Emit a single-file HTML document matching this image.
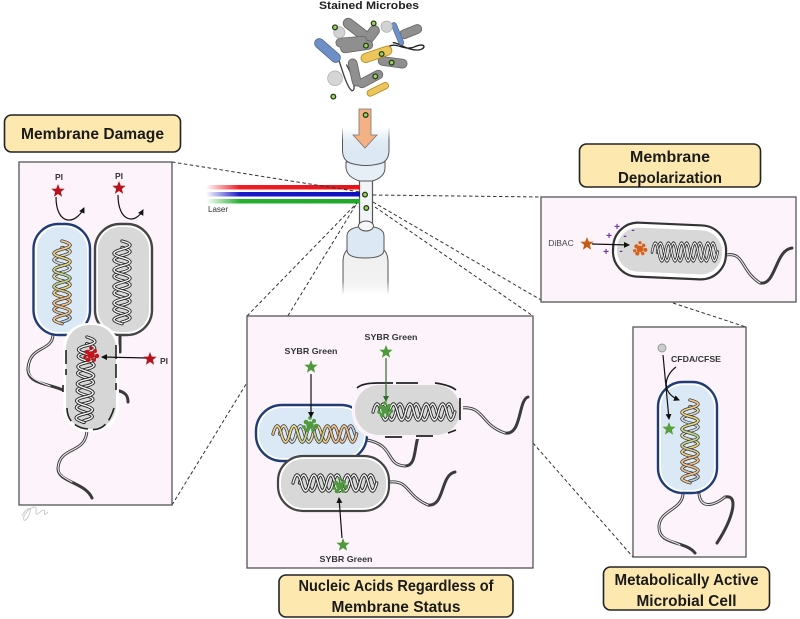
<!DOCTYPE html>
<html>
<head>
<meta charset="utf-8">
<style>
html,body{margin:0;padding:0;background:#fff;width:800px;height:619px;overflow:hidden}
svg{display:block;filter:blur(.35px)}
text{font-family:"Liberation Sans",sans-serif}
.lb{font-weight:bold;fill:#1a1a1a;font-size:15.5px;text-anchor:middle}
.sm{font-weight:bold;fill:#333;font-size:8.5px;text-anchor:middle}
.box{fill:#fde9b0;stroke:#222;stroke-width:1.6}
.panel{fill:#fdf4fb;stroke:#555;stroke-width:1.3}
.dash{fill:none;stroke:#333;stroke-width:1;stroke-dasharray:3.5 2.5}
.fo{fill:none;stroke:#3a3a3a;stroke-width:3;stroke-linecap:round}
.fi{fill:none;stroke:#eee;stroke-width:1.1;stroke-linecap:round}
.ar{fill:none;stroke:#111;stroke-width:1.2;marker-end:url(#ah)}
</style>
</head>
<body>
<svg width="800" height="619" viewBox="0 0 800 619" xmlns="http://www.w3.org/2000/svg">
<defs>
<marker id="ah" markerWidth="7" markerHeight="7" refX="5" refY="3" orient="auto" markerUnits="userSpaceOnUse"><path d="M0 0L6 3L0 6Z" fill="#111"/></marker>
<marker id="ag" markerWidth="7" markerHeight="7" refX="5" refY="3" orient="auto" markerUnits="userSpaceOnUse"><path d="M0 0L6 3L0 6Z" fill="#2f6b2a"/></marker>
<linearGradient id="colA" gradientUnits="userSpaceOnUse" x1="0" y1="0" x2="0" y2="90"><stop offset="0" stop-color="#f2c690"/><stop offset=".25" stop-color="#f0d87a"/><stop offset=".45" stop-color="#b6d88e"/><stop offset=".7" stop-color="#f2bf8a"/><stop offset="1" stop-color="#f2c690"/></linearGradient>
<linearGradient id="colB" gradientUnits="userSpaceOnUse" x1="0" y1="0" x2="0" y2="90"><stop offset="0" stop-color="#f4d488"/><stop offset=".3" stop-color="#cfe0ee"/><stop offset=".55" stop-color="#f2d67c"/><stop offset=".8" stop-color="#f2bf8a"/><stop offset="1" stop-color="#a8cdea"/></linearGradient>
<linearGradient id="lr" x1="0" x2="1" y1="0" y2="0"><stop offset="0" stop-color="#ee1c25" stop-opacity="0"/><stop offset=".22" stop-color="#ee1c25"/><stop offset="1" stop-color="#e8141c"/></linearGradient>
<linearGradient id="lb" x1="0" x2="1" y1="0" y2="0"><stop offset="0" stop-color="#1a1ac8" stop-opacity="0"/><stop offset=".22" stop-color="#1a1ac8"/><stop offset="1" stop-color="#1010c0"/></linearGradient>
<linearGradient id="lg" x1="0" x2="1" y1="0" y2="0"><stop offset="0" stop-color="#25b030" stop-opacity="0"/><stop offset=".22" stop-color="#25b030"/><stop offset="1" stop-color="#1fa82a"/></linearGradient>
<linearGradient id="nz" gradientUnits="userSpaceOnUse" x1="0" x2="0" y1="127" y2="150"><stop offset="0" stop-color="#fff"/><stop offset=".6" stop-color="#e2ecf5"/><stop offset="1" stop-color="#dce8f3"/></linearGradient>
<linearGradient id="lo" gradientUnits="userSpaceOnUse" x1="0" x2="0" y1="255" y2="295"><stop offset="0" stop-color="#f0f0f0"/><stop offset=".7" stop-color="#f2f2f2"/><stop offset="1" stop-color="#fff"/></linearGradient>
<linearGradient id="ed" gradientUnits="userSpaceOnUse" x1="0" x2="0" y1="127" y2="140"><stop offset="0" stop-color="#555" stop-opacity="0"/><stop offset="1" stop-color="#555"/></linearGradient>
<linearGradient id="ed2" gradientUnits="userSpaceOnUse" x1="0" x2="0" y1="280" y2="295"><stop offset="0" stop-color="#555"/><stop offset="1" stop-color="#555" stop-opacity="0"/></linearGradient>
<path id="st" d="M0 0Q16 4.5 0 9T0 18T0 27T0 36T0 45T0 54T0 63T0 72T0 81T0 90" fill="none"/>
<path id="st2" d="M0 7Q16 11.5 0 16T0 25T0 34T0 43T0 52T0 61T0 70T0 79T0 88" fill="none"/>
<g id="hg" stroke-linecap="round">
<use href="#st2" stroke="#222" stroke-width="3.4"/><use href="#st2" stroke="#f2f2f2" stroke-width="1.5"/>
<use href="#st" stroke="#222" stroke-width="3.4"/><use href="#st" stroke="#f6f6f6" stroke-width="1.5"/>
</g>
<g id="hc" stroke-linecap="round">
<use href="#st2" stroke="#333" stroke-width="3.4"/><use href="#st2" stroke="url(#colB)" stroke-width="1.9"/>
<use href="#st" stroke="#333" stroke-width="3.4"/><use href="#st" stroke="url(#colA)" stroke-width="1.9"/>
</g>
<path id="star" d="M0-7L1.8-2.4L6.7-2.2L2.9.9L4.1 5.7L0 3L-4.1 5.7L-2.9.9L-6.7-2.2L-1.8-2.4Z"/>
<g id="bl">
<circle cx="0" cy="0" r="3.8"/><circle cx="-4" cy="-3" r="2.3"/><circle cx="4" cy="-4" r="2"/><circle cx="-6" cy="2" r="1.8"/><circle cx="6" cy="1" r="2.2"/><circle cx="-3" cy="5" r="2.3"/><circle cx="3" cy="5" r="1.9"/><circle cx="0" cy="-7" r="1.8"/>
</g>
<g id="dot"><circle r="9" fill="#24401c"/><circle r="5" fill="#a6d060"/></g>
</defs>

<rect width="800" height="619" fill="#fff"/>

<!-- Microbes -->
<text x="369" y="9" font-size="11" font-weight="bold" fill="#222" text-anchor="middle" textLength="100" lengthAdjust="spacingAndGlyphs">Stained Microbes</text>
<g transform="translate(200,0) scale(.3333)">
<g fill="none" stroke-linecap="round">
<path d="M415 175C425 205 440 260 455 272C470 275 460 230 440 195" stroke="#444" stroke-width="4"/>
<path d="M565 140C590 125 615 155 645 140C680 125 680 150 650 150C620 150 600 130 580 128" stroke="#222" stroke-width="4"/>
<g stroke="#666" stroke-width="33"><path d="M445 70L488 103"/><path d="M505 115L523 92"/></g>
<g stroke="#8f8f8f" stroke-width="28"><path d="M445 70L488 103"/><path d="M505 115L523 92"/></g>
<g stroke="#666" stroke-width="29"><path d="M421 128L488 122"/><path d="M435 145L505 135"/><path d="M612 103L652 87"/><path d="M548 183L608 191"/><path d="M458 190L470 245"/><path d="M486 250L535 224"/></g>
<g stroke="#8f8f8f" stroke-width="24"><path d="M421 128L488 122"/><path d="M435 145L505 135"/><path d="M612 103L652 87"/><path d="M548 183L608 191"/><path d="M458 190L470 245"/><path d="M486 250L535 224"/></g>
<path d="M358 130L407 173" stroke="#55698c" stroke-width="31"/><path d="M358 130L407 173" stroke="#6e90c8" stroke-width="26"/>
<path d="M582 75L604 128" stroke="#55698c" stroke-width="17"/><path d="M582 75L604 128" stroke="#6e90c8" stroke-width="13"/>
<path d="M497 174L562 152" stroke="#b08a20" stroke-width="30"/><path d="M497 174L562 152" stroke="#ecc65c" stroke-width="25"/>
<path d="M511 279L556 257" stroke="#b08a20" stroke-width="22"/><path d="M511 279L556 257" stroke="#ecc65c" stroke-width="17"/>
</g>
<circle cx="418" cy="97" r="17" fill="#d2d2d2" stroke="#aaa" stroke-width="2"/>
<circle cx="560" cy="80" r="17" fill="#d2d2d2" stroke="#aaa" stroke-width="2"/>
<circle cx="405" cy="235" r="22" fill="#d6d6d6" stroke="#aaa" stroke-width="2"/>
<use href="#dot" x="405" y="82"/><use href="#dot" x="521" y="70"/><use href="#dot" x="498" y="137"/><use href="#dot" x="545" y="162"/><use href="#dot" x="575" y="188"/><use href="#dot" x="526" y="229"/><use href="#dot" x="400" y="290"/>
</g>

<!-- Lower flow cell -->
<path d="M343 295V262Q343 254 348 250H383Q388 254 388 262V295Z" fill="url(#lo)"/>
<path d="M347 250V236Q347 229 358 227H374Q384 229 384 236V250Q384 258 365 258Q347 258 347 250Z" fill="#dce8f3" stroke="#555" stroke-width="1"/>
<path d="M343 280V262Q343 254 347 250M388 280V262Q388 254 384 250" fill="none" stroke="#555" stroke-width="1"/>
<path d="M343 280V295M388 280V295" fill="none" stroke="url(#ed2)" stroke-width="1"/>
<rect x="359.500" y="180" width="13" height="44" fill="#f2f5f8"/>
<path d="M359.500 180V224M372.500 180V224" stroke="#555" stroke-width="1.2"/>
<ellipse cx="366" cy="226" rx="7.500" ry="5" fill="#f6f6f6" stroke="#555" stroke-width="1"/>

<!-- Upper flow cell -->
<path d="M346 162V168Q347 177 359.500 181H372.500Q385 177 385 168V162Z" fill="#e6eef6" stroke="#555" stroke-width="1"/>
<path d="M342.500 127V150Q342.500 160 350 163Q366 168 382 163Q389 160 389 150V127Z" fill="url(#nz)"/>
<path d="M342.500 140V150Q342.500 160 350 163Q366 168 382 163Q389 160 389 150V140" fill="none" stroke="#555" stroke-width="1"/>
<path d="M342.500 127V140M389 127V140" stroke="url(#ed)" stroke-width="1"/>

<!-- Lasers -->
<rect x="206" y="185" width="154" height="4.500" fill="url(#lr)"/>
<rect x="206" y="192" width="154" height="4.500" fill="url(#lb)"/>
<rect x="206" y="199" width="154" height="4.500" fill="url(#lg)"/>
<text x="208" y="212" font-size="8" fill="#333">Laser</text>

<!-- Orange arrow -->
<path d="M359 109H371V135H377L365 148L353 135H359Z" fill="#f4b183" stroke="#777" stroke-width=".8"/>
<g transform="translate(200,0) scale(.3333)">
<use href="#dot" x="497" y="345"/><use href="#dot" x="495" y="584"/><use href="#dot" x="499" y="624"/>
</g>

<!-- Connectors -->
<path class="dash" d="M172 162L360 192M172 505L357 203M247 316L357 203M373 195L541 197M373 202L541 300M375 207L533 316M533 443L633 557M673 303L746 327"/>

<!-- Membrane Damage -->
<rect class="box" x="4.500" y="115" width="176" height="37" rx="7"/>
<text class="lb" x="92.500" y="139" textLength="143" lengthAdjust="spacingAndGlyphs">Membrane Damage</text>
<rect class="panel" x="19" y="162" width="153" height="343"/>

<path class="fo" d="M53 335C52 352 30 345 28 368C27 385 50 383 65 391"/><path class="fi" d="M53 335C52 352 30 345 28 368C27 378 40 382 50 386"/>
<path class="fo" d="M120 335V352" stroke-width="2.600"/>
<path class="fo" d="M116 390C125 392 128 395 128 402" stroke-width="2"/>
<path class="fo" d="M87 430C86 455 60 445 58 468C57 482 85 482 92 498"/><path class="fi" d="M87 430C86 455 60 445 58 468C58 475 65 478 72 482"/>

<rect x="33.500" y="224" width="56.500" height="111" rx="25" fill="#fff" stroke="#1f3d74" stroke-width="2.400"/>
<rect x="37" y="227" width="50" height="105" rx="22" fill="#dbe8f5"/>
<use href="#hc" transform="translate(62,241) scale(1,.92)"/>
<rect x="95" y="224" width="57" height="111" rx="25" fill="#fff" stroke="#444" stroke-width="2.400"/>
<rect x="98" y="227" width="51" height="105" rx="22" fill="#d8d8d8"/>
<use href="#hg" transform="translate(122,241) scale(1,.92)"/>

<rect x="63" y="323" width="56" height="109" rx="25" fill="#fff"/>
<rect x="66" y="325" width="50" height="104" rx="23" fill="#d6d6d6"/>
<path d="M66 350V375M63 385V392M116 345V390M67 408C67 420 75 428 88 429C98 431 108 428 114 408" fill="none" stroke="#222" stroke-width="1.600" stroke-dasharray="14 5"/>
<use href="#hg" transform="translate(87,337) rotate(2) scale(1,.95)"/>
<use href="#bl" x="91" y="355" fill="#c4151c"/>
<path class="ar" d="M147 358L102 357"/>
<use href="#star" x="150" y="359" fill="#b5121b"/>
<text class="sm" x="164" y="364">PI</text>
<use href="#star" x="58" y="191" fill="#b5121b"/><text class="sm" x="59" y="180">PI</text>
<use href="#star" x="119" y="188" fill="#b5121b"/><text class="sm" x="119" y="179">PI</text>
<path class="ar" d="M56 197C56 225 75 226 84 208"/>
<path class="ar" d="M118 195C118 222 135 225 143 210"/>
<path d="M22 516C26 508 32 506 30 512C28 520 22 524 24 516C30 506 38 504 36 512C36 518 40 510 44 510C46 512 42 518 48 512" fill="none" stroke="#ccc" stroke-width="1"/>

<!-- Center panel -->
<rect class="panel" x="247" y="316" width="286" height="252"/>

<path class="fo" d="M460 408C485 405 480 425 505 433C522 436 518 400 528 397"/><path class="fi" d="M460 408C485 405 480 425 505 433"/>
<path class="fo" d="M367 440C395 445 385 465 405 466C416 466 414 450 418 437"/><path class="fi" d="M367 440C395 445 385 465 405 466"/>
<path class="fo" d="M389 482C410 480 405 495 428 505C445 507 440 475 455 472"/><path class="fi" d="M389 482C410 480 405 495 428 505"/>

<rect x="256" y="405" width="111" height="56" rx="26" fill="#fff" stroke="#1f3d74" stroke-width="2.400"/>
<rect x="259" y="408" width="105" height="50" rx="23" fill="#dbe8f5"/>
<use href="#hc" transform="translate(273,434) rotate(-90) scale(1,.93)"/>

<rect x="278" y="456" width="111" height="55" rx="25" fill="#fff" stroke="#444" stroke-width="2.200"/>
<rect x="281" y="459" width="105" height="49" rx="22" fill="#d8d8d8"/>
<use href="#hg" transform="translate(293,483) rotate(-90) scale(1,.93)"/>

<rect x="352" y="380" width="111" height="59" rx="27" fill="#fdf4fb"/>
<rect x="355" y="385" width="105" height="50" rx="24" fill="#d8d8d8"/>
<path d="M357 388Q362 383 378 383H393M396 383H418M435 383Q450 385 456 390M460 398V420M456 430L448 433M433 436H416M402 437H385" fill="none" stroke="#222" stroke-width="1.700"/>
<use href="#hg" transform="translate(373,412) rotate(-90) scale(1,.91)"/>

<use href="#bl" x="310" y="425" fill="#4f9a3d"/>
<use href="#bl" x="385" y="410" fill="#4f9a3d"/>
<use href="#bl" x="340" y="486" fill="#4f9a3d"/>
<use href="#star" x="311" y="367" fill="#4f9a3d"/>
<use href="#star" x="386" y="352" fill="#4f9a3d"/>
<use href="#star" x="343" y="545" fill="#4f9a3d"/>
<path class="ar" d="M311 374L311 417"/>
<path d="M386 358L386 401" fill="none" stroke="#2f6b2a" stroke-width="1.200" marker-end="url(#ag)"/>
<path class="ar" d="M342 538L339 498"/>
<text class="sm" x="311" y="354" textLength="53" lengthAdjust="spacingAndGlyphs">SYBR Green</text>
<text class="sm" x="391" y="340" textLength="53" lengthAdjust="spacingAndGlyphs">SYBR Green</text>
<text class="sm" x="346" y="562" textLength="53" lengthAdjust="spacingAndGlyphs">SYBR Green</text>

<rect class="box" x="279" y="575" width="234" height="42" rx="7"/>
<text class="lb" x="396" y="591" textLength="195" lengthAdjust="spacingAndGlyphs">Nucleic Acids Regardless of</text>
<text class="lb" x="396" y="612" textLength="129" lengthAdjust="spacingAndGlyphs">Membrane Status</text>

<!-- Depolarization -->
<rect class="box" x="579.500" y="144" width="181" height="43" rx="7"/>
<text class="lb" x="670" y="162" textLength="80" lengthAdjust="spacingAndGlyphs">Membrane</text>
<text class="lb" x="670" y="183" textLength="104" lengthAdjust="spacingAndGlyphs">Depolarization</text>
<rect class="panel" x="541" y="197" width="255" height="105"/>
<path class="fo" d="M726 255C745 252 740 270 760 283C776 286 775 250 792 248"/><path class="fi" d="M726 255C745 252 740 270 760 283"/>
<g transform="rotate(2.500 669 252)">
<rect x="613" y="224" width="113" height="54" rx="25" fill="#fff" stroke="#333" stroke-width="2.200"/>
<rect x="617" y="229" width="105" height="44" rx="21" fill="#d8d8d8"/>
</g>
<use href="#hg" transform="translate(652,252) rotate(-90) scale(1.100,.73)"/>
<use href="#bl" fill="#d8611a" transform="translate(640,249) scale(.9)"/>
<use href="#star" x="587" y="244" fill="#c45a18"/>
<path class="ar" d="M592 244L629 245"/>
<text x="561" y="246" font-size="8.500" fill="#444" text-anchor="middle">DiBAC</text>
<g fill="#7030a0" font-size="10" font-weight="bold" text-anchor="middle">
<text x="617" y="230">+</text><text x="609" y="239">+</text><text x="606" y="255">+</text>
<text x="633" y="233">-</text><text x="625" y="239">-</text><text x="621" y="254">-</text>
</g>

<!-- Metabolically active -->
<rect class="panel" x="633" y="327" width="113" height="230"/>
<path class="fo" d="M683 494C682 510 660 510 659 526C658 546 685 540 695 553"/><path class="fi" d="M683 494C682 510 660 510 659 526C658 540 672 540 680 545"/>
<path class="fo" d="M699 494C701 510 715 505 725 497C740 494 732 520 717 543"/><path class="fi" d="M699 494C701 510 715 505 725 497"/>
<rect x="658" y="382" width="59" height="111" rx="25" fill="#fff" stroke="#1f3d74" stroke-width="2.400"/>
<rect x="661" y="385" width="53" height="105" rx="22" fill="#dbe8f5"/>
<use href="#hc" transform="translate(690,400) scale(1,.92)"/>
<circle cx="662" cy="348" r="4" fill="#ccc" stroke="#999"/>
<path class="ar" d="M663 355L669 419"/>
<path class="ar" d="M676 367C665 375 660 392 679 400"/>
<use href="#star" x="669" y="429" fill="#55a03c"/>
<text x="696" y="362" font-size="8.500" font-weight="bold" fill="#333" text-anchor="middle" textLength="50" lengthAdjust="spacingAndGlyphs">CFDA/CFSE</text>
<rect class="box" x="603.500" y="567" width="166" height="43" rx="7"/>
<text class="lb" x="686.500" y="585" textLength="144" lengthAdjust="spacingAndGlyphs">Metabolically Active</text>
<text class="lb" x="686.500" y="606" textLength="100" lengthAdjust="spacingAndGlyphs">Microbial Cell</text>
</svg>
</body>
</html>
